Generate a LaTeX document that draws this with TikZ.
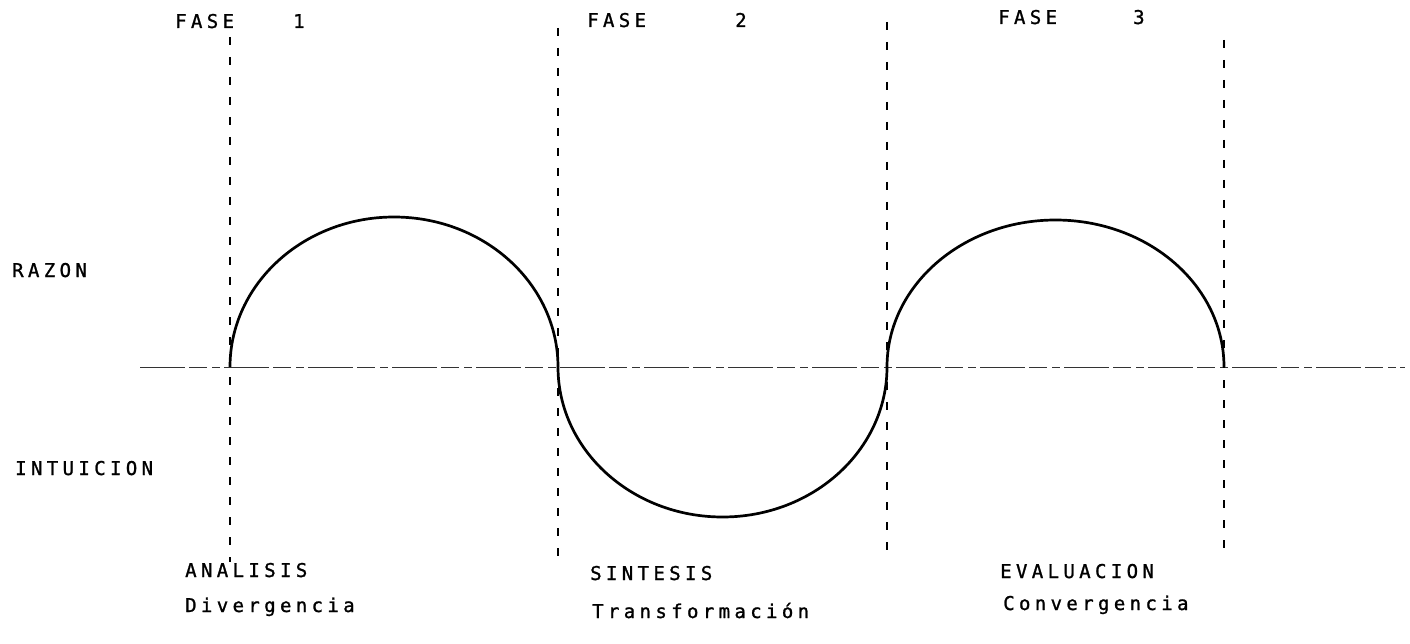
\documentclass[tikz,border=0pt]{standalone}
\usepackage{fontspec}
\newfontfamily\dotfont[LetterSpace=23,FakeBold=1.2]{DejaVu Sans Mono}
\begin{document}
\begin{tikzpicture}[x=1pt,y=-1pt,
  lbl/.style={anchor=base west,inner sep=0pt,font=\dotfont\fontsize{19}{21}\selectfont},
  phaseline/.style={line width=1.8pt,dash pattern=on 8pt off 12pt},
  axisline/.style={line width=0.9pt,black!80,dash pattern=on 45pt off 4pt on 18pt off 5pt on 8pt off 4pt},
  wave/.style={line width=2.7pt}]
\useasboundingbox (0,0) rectangle (1410,644);
% axis coordinates
\coordinate (axL) at (140,367);
\coordinate (axR) at (1405,367);
\coordinate (p0) at (230,367);
\coordinate (p1) at (558,367);
\coordinate (p2) at (887,367);
\coordinate (p3) at (1224,367);
% vertical phase lines
\coordinate (t0) at (230,37);  \coordinate (b0) at (230,562);
\coordinate (t1) at (558,28);  \coordinate (b1) at (558,556);
\coordinate (t2) at (887,22);  \coordinate (b2) at (887,558);
\coordinate (t3) at (1224,40); \coordinate (b3) at (1224,558);
\draw[axisline] (axL) -- (axR);
\draw[phaseline] (t0) -- (b0);
\draw[phaseline] (t1) -- (b1);
\draw[phaseline] (t2) -- (b2);
\draw[phaseline] (t3) -- (b3);
% wave
\draw[wave] (p0) arc[start angle=180,end angle=360,x radius=164,y radius=150];
\draw[wave] (p1) arc[start angle=180,end angle=0,x radius=164.5,y radius=150];
\draw[wave] (p2) arc[start angle=180,end angle=360,x radius=168.5,y radius=147];
% labels
\node[lbl] (f1) at (175,28) {FASE};
\node[lbl] (n1) at (293,28) {1};
\node[lbl] (f2) at (587,27) {FASE};
\node[lbl] (n2) at (735,27) {2};
\node[lbl] (f3) at (998,24) {FASE};
\node[lbl] (n3) at (1133,24) {3};
\node[lbl] (razon) at (12,277) {RAZON};
\node[lbl] (intu) at (15,475) {INTUICION};
\node[lbl] (ana) at (185,577) {ANALISIS};
\node[lbl] (div) at (185,612) {Divergencia};
\node[lbl] (sin) at (590,580) {SINTESIS};
\node[lbl] (tra) at (592,618) {Transformación};
\node[lbl] (eva) at (1000,578) {EVALUACION};
\node[lbl] (con) at (1003,610) {Convergencia};
\end{tikzpicture}
\end{document}
